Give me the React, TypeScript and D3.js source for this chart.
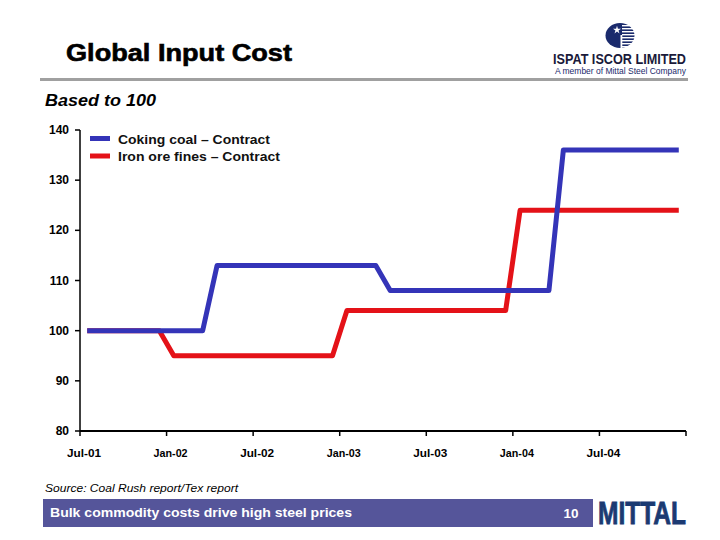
import React from "react";
import * as d3 from "d3";

const months: string[] = [
  "Jul-01","Aug-01","Sep-01","Oct-01","Nov-01","Dec-01",
  "Jan-02","Feb-02","Mar-02","Apr-02","May-02","Jun-02",
  "Jul-02","Aug-02","Sep-02","Oct-02","Nov-02","Dec-02",
  "Jan-03","Feb-03","Mar-03","Apr-03","May-03","Jun-03",
  "Jul-03","Aug-03","Sep-03","Oct-03","Nov-03","Dec-03",
  "Jan-04","Feb-04","Mar-04","Apr-04","May-04","Jun-04",
  "Jul-04","Aug-04","Sep-04","Oct-04","Nov-04","Dec-04",
];

const cokingCoal: number[] = [
  100,100,100,100,100,100,100,100,100,
  113,113,113,113,113,113,113,113,113,113,113,113,
  108,108,108,108,108,108,108,108,108,108,108,108,
  136,136,136,136,136,136,136,136,136,
];

const ironOre: number[] = [
  100,100,100,100,100,100,
  95,95,95,95,95,95,95,95,95,95,95,95,
  104,104,104,104,104,104,104,104,104,104,104,104,
  124,124,124,124,124,124,124,124,124,124,124,124,
];

const xTickLabels: string[] = ["Jul-01","Jan-02","Jul-02","Jan-03","Jul-03","Jan-04","Jul-04"];
const yTicks: number[] = [80, 90, 100, 110, 120, 130, 140];
const seriesNames: string[] = ["Coking coal – Contract", "Iron ore fines – Contract"];

const BLUE = "#3434B8";
const RED = "#E41218";

export default function App() {
  const W = 720, H = 540;
  const left = 80, right = 686, top = 130, bottom = 431;

  const x = d3.scalePoint<string>().domain(months).range([left, right]).padding(0.5);
  const step = x.step();
  const y = d3.scaleLinear().domain([80, 140]).range([bottom, top]);

  const line = d3.line<number>()
    .x((_, i) => x(months[i]) as number)
    .y((d) => y(d));

  const tickXs = d3.range(0, 8).map((k) => left + k * 6 * step);

  return (
    <svg width={W} height={H} style={{ position: "absolute", left: 0, top: 0, background: "#fff" }}
      fontFamily="Arial, 'Liberation Sans', sans-serif">
      <rect x={0} y={0} width={W} height={H} fill="#fff" />
      {/* Title */}
      <text x={66} y={61} fontSize={23} fontWeight="bold" fill="#000" stroke="#000" strokeWidth={0.6}
        textLength={226} lengthAdjust="spacingAndGlyphs">Global Input Cost</text>
      <rect x={40} y={78} width={648} height={3} fill="#A0A0A0" />
      <text x={45} y={106} fontSize={16} fontWeight="bold" fontStyle="italic" fill="#000"
        textLength={111} lengthAdjust="spacingAndGlyphs">Based to 100</text>

      {/* Logo */}
      <g>
        <ellipse cx={620} cy={35.5} rx={14.5} ry={12.5} fill="#1A2A6C" />
        {d3.range(0, 8).map((i) => (
          <rect key={i} x={622} y={25 + i * 3} width={16} height={1.4} fill="#fff" />
        ))}
        <rect x={620.5} y={35} width={1.8} height={14} fill="#fff" />
        <path d={d3.symbol(d3.symbolStar, 20)() as string} transform="translate(617,30)" fill="#fff" />
      </g>
      <text x={553} y={64} fontSize={15} fontWeight="bold" fill="#1a1a3a" textLength={133} lengthAdjust="spacingAndGlyphs">ISPAT ISCOR LIMITED</text>
      <text x={555} y={74} fontSize={9} fill="#1A2A6C" textLength={131} lengthAdjust="spacingAndGlyphs">A member of Mittal Steel Company</text>

      {/* Axes */}
      <line x1={left} x2={left} y1={top} y2={bottom} stroke="#000" strokeWidth={1.5} />
      <line x1={left} x2={right} y1={bottom} y2={bottom} stroke="#000" strokeWidth={2} />
      {yTicks.map((t) => (
        <g key={t}>
          <line x1={left - 5} x2={left} y1={y(t)} y2={y(t)} stroke="#000" strokeWidth={1.5} />
          <text x={69} y={y(t) + 4} fontSize={12} fontWeight="bold" textAnchor="end" fill="#000">{t}</text>
        </g>
      ))}
      {tickXs.map((tx, i) => (
        <line key={i} x1={tx} x2={tx} y1={bottom} y2={bottom + 5} stroke="#000" strokeWidth={1.5} />
      ))}
      {xTickLabels.map((lab, i) => (
        <text key={lab} x={tickXs[i] + 4} y={457} fontSize={11.5} fontWeight="bold" textAnchor="middle" fill="#000"
          textLength={34} lengthAdjust="spacingAndGlyphs">{lab}</text>
      ))}

      {/* Lines */}
      <path d={line(ironOre) as string} fill="none" stroke={RED} strokeWidth={5} strokeLinejoin="round" />
      <path d={line(cokingCoal) as string} fill="none" stroke={BLUE} strokeWidth={5} strokeLinejoin="round" />

      {/* Legend */}
      <line x1={90} x2={110} y1={138.5} y2={138.5} stroke={BLUE} strokeWidth={5} />
      <text x={118} y={143.5} fontSize={12.5} fontWeight="bold" fill="#111" textLength={152} lengthAdjust="spacingAndGlyphs">{seriesNames[0]}</text>
      <line x1={90} x2={110} y1={156} y2={156} stroke={RED} strokeWidth={5} />
      <text x={118} y={161} fontSize={12.5} fontWeight="bold" fill="#111" textLength={162} lengthAdjust="spacingAndGlyphs">{seriesNames[1]}</text>

      {/* Footer */}
      <text x={45} y={492} fontSize={11} fontStyle="italic" fill="#000" textLength={193} lengthAdjust="spacingAndGlyphs">Source: Coal Rush report/Tex report</text>
      <rect x={43} y={499} width={550} height={28} fill="#55559A" />
      <text x={50} y={517} fontSize={13.5} fontWeight="bold" fill="#fff" textLength={302} lengthAdjust="spacingAndGlyphs">Bulk commodity costs drive high steel prices</text>
      <text x={571} y={518} fontSize={13.5} fontWeight="bold" fill="#fff" textAnchor="middle">10</text>
      <text x={598} y={524} fontSize={31} fontWeight="bold" fill="#1B3A72" stroke="#1B3A72" strokeWidth={0.8} textLength={88} lengthAdjust="spacingAndGlyphs">MITTAL</text>
    </svg>
  );
}
